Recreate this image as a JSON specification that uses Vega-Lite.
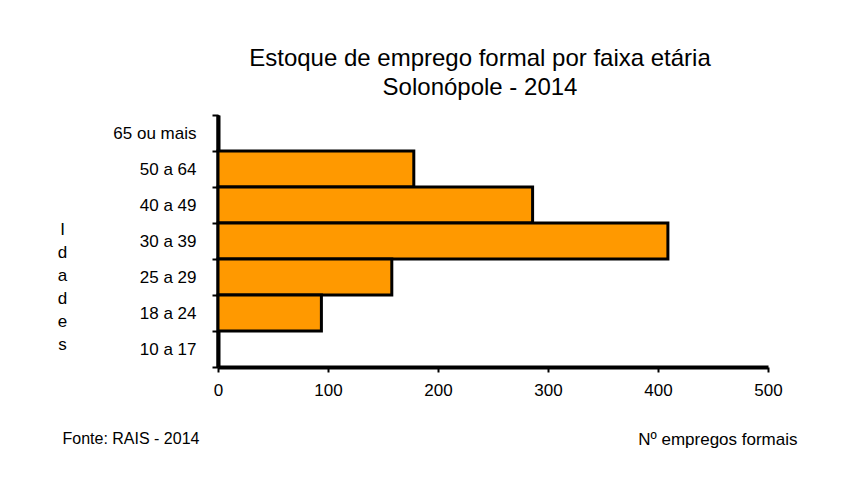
{
  "$schema": "https://vega.github.io/schema/vega-lite/v6.json",
  "width": 550,
  "height": 252,
  "autosize": {"type": "none"},
  "padding": {"left": 218, "top": 115, "right": 74, "bottom": 120},
  "background": "white",
  "config": {
    "view": {"stroke": null},
    "font": "Liberation Sans",
    "axis": {"labelFont": "Liberation Sans", "titleFont": "Liberation Sans", "labelColor": "black", "titleColor": "black", "titleFontWeight": "normal", "grid": false}
  },
  "title": {
    "text": ["Estoque de emprego formal por faixa etária", "Solonópole - 2014"],
    "font": "Liberation Sans",
    "fontSize": 24,
    "fontWeight": "normal",
    "color": "black",
    "lineHeight": 29,
    "anchor": "middle",
    "dx": -13,
    "offset": 6
  },
  "data": {
    "values": [
      {"faixa": "65 ou mais", "empregos": 0},
      {"faixa": "50 a 64", "empregos": 178},
      {"faixa": "40 a 49", "empregos": 286},
      {"faixa": "30 a 39", "empregos": 409},
      {"faixa": "25 a 29", "empregos": 158},
      {"faixa": "18 a 24", "empregos": 94},
      {"faixa": "10 a 17", "empregos": 0}
    ]
  },
  "resolve": {"axis": {"x": "independent"}},
  "layer": [
    {
      "mark": {"type": "bar", "fill": "#FF9900", "stroke": "black", "strokeWidth": 3, "opacity": 1},
      "encoding": {
        "y": {
          "field": "faixa", "type": "nominal",
          "sort": ["65 ou mais", "50 a 64", "40 a 49", "30 a 39", "25 a 29", "18 a 24", "10 a 17"],
          "scale": {"paddingInner": 0, "paddingOuter": 0},
          "axis": {
            "title": ["I", "d", "a", "d", "e", "s"],
            "titleAngle": 0,
            "titleX": -156,
            "titleY": 106,
            "titleBaseline": "top",
            "titleAlign": "center",
            "titleLineHeight": 23,
            "titleFontSize": 17,
            "labelFontSize": 17,
            "labelPadding": 16,
            "tickBand": "extent",
            "tickSize": 6,
            "tickWidth": 2,
            "tickColor": "black",
            "domainColor": "black",
            "domainWidth": 4
          }
        },
        "x": {
          "field": "empregos", "type": "quantitative",
          "scale": {"domain": [0, 500], "nice": false},
          "axis": {
            "values": [0, 100, 200, 300, 400, 500],
            "title": "Nº empregos formais",
            "titleFontSize": 17,
            "titleX": 579,
            "titleY": 77,
            "titleAlign": "right",
            "titleBaseline": "alphabetic",
            "labelFontSize": 17,
            "labelFlush": false,
            "labelPadding": 10,
            "tickSize": 5,
            "tickWidth": 2,
            "tickColor": "black",
            "domainColor": "black",
            "domainWidth": 4
          }
        }
      }
    },
    {
      "mark": {"type": "bar", "opacity": 0},
      "encoding": {
        "y": {
          "field": "faixa", "type": "nominal",
          "sort": ["65 ou mais", "50 a 64", "40 a 49", "30 a 39", "25 a 29", "18 a 24", "10 a 17"]
        },
        "x": {
          "field": "empregos", "type": "quantitative",
          "axis": {
            "orient": "bottom",
            "title": "Fonte: RAIS - 2014",
            "titleFontSize": 16,
            "titleX": -156,
            "titleY": 76,
            "titleAlign": "left",
            "titleBaseline": "alphabetic",
            "labels": false,
            "ticks": false,
            "domain": false
          }
        }
      }
    }
  ]
}
